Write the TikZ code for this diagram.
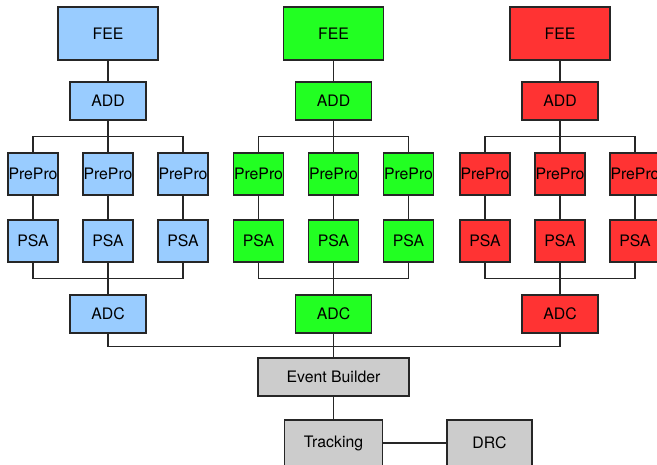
\documentclass[tikz,border=0pt]{standalone}
\usepackage{fontspec}
\setmainfont{TeX Gyre Heros}
\usepackage{xcolor}
\usepackage{tikz}
\usetikzlibrary{positioning}

\definecolor{chanblue}{RGB}{153,204,255}
\definecolor{changreen}{RGB}{34,255,34}
\definecolor{chanred}{RGB}{255,51,51}
\definecolor{daqgray}{RGB}{204,204,204}

\tikzset{
  box/.style={draw=black!85, line width=0.6pt, inner sep=0pt,
    font=\fontsize{9}{11}\selectfont},
  feebox/.style={box, minimum width=2cm, minimum height=1.06cm},
  addbox/.style={box, minimum width=1.52cm, minimum height=0.76cm},
  probox/.style={box, minimum width=1cm, minimum height=0.84cm},
  wire/.style={draw=black!85, line width=0.6pt}
}

\begin{document}
\begin{tikzpicture}[x=0.02cm, y=-0.02cm]
  \useasboundingbox (0,0) rectangle (657,465);

  % event builder and what follows
  \node (eb) [box, fill=daqgray, minimum width=3.02cm, minimum height=0.76cm] at (333.5,377) {Event Builder};
  \node (trk) [box, fill=daqgray, minimum width=1.96cm, minimum height=0.92cm] at (333.5,443) {Tracking};
  \node (drc) [box, fill=daqgray, minimum width=1.7cm, minimum height=0.92cm] at (489.5,443) {DRC};
  \draw[wire] (eb) -- (trk);
  \draw[wire] (trk) -- (drc);

  % one column per detector
  \foreach \c/\x/\clr in {a/108/chanblue, b/333.5/changreen, c/560/chanred} {
    \node (fee-\c) [feebox, fill=\clr] at (\x,33.5) {FEE};
    \node (add-\c) [addbox, fill=\clr] at (\x,101) {ADD};
    \node (adc-\c) [addbox, fill=\clr] at (\x,314) {ADC};
    \draw[wire] (fee-\c) -- (add-\c);
    \foreach \i/\dx in {1/-75, 2/0, 3/75} {
      \node (pre-\c\i) [probox, fill=\clr] at (\x+\dx,174) {PrePro};
      \node (psa-\c\i) [probox, fill=\clr] at (\x+\dx,241) {PSA};
      \draw[wire] (pre-\c\i) -- (psa-\c\i);
      \draw[wire] (add-\c.south) -- ++(0,16) -| (pre-\c\i.north);
      \draw[wire] (psa-\c\i.south) -- ++(0,16) -| (adc-\c.north);
    }
    \draw[wire] (adc-\c.south) -- ++(0,13) -| (eb.north);
  }
\end{tikzpicture}
\end{document}
